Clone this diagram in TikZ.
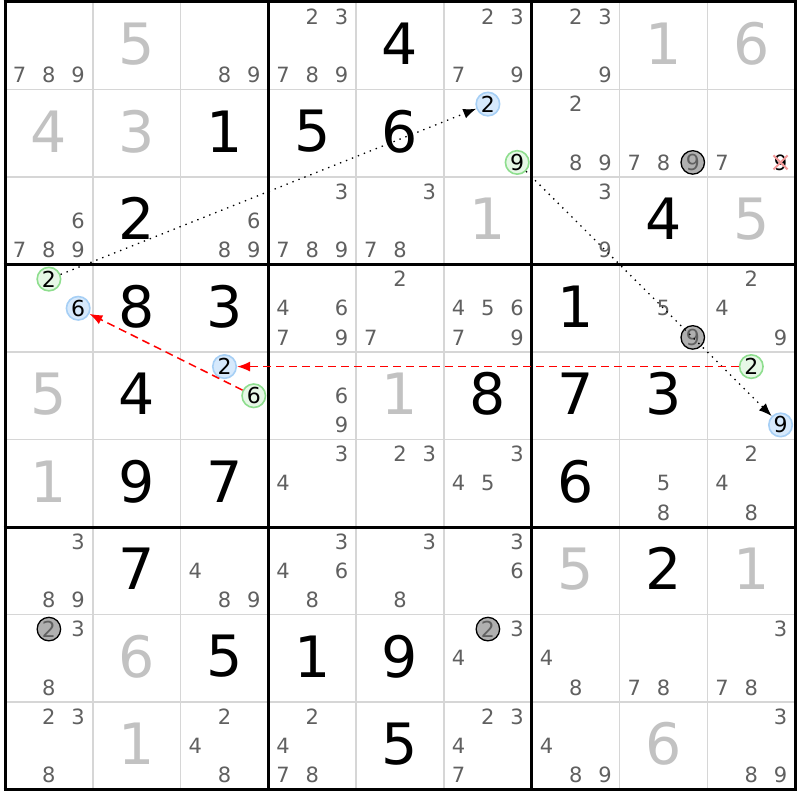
\documentclass[tikz,border=0pt]{standalone}
\usepackage{fontspec}
\setmainfont{DejaVu Sans}
\usetikzlibrary{arrows.meta}
\definecolor{candc}{HTML}{606060}
\definecolor{solc}{HTML}{C2C2C2}
\definecolor{thinc}{HTML}{D6D6D6}
\definecolor{bluef}{HTML}{D6E9FC}
\definecolor{blued}{HTML}{A6CFF5}
\definecolor{greenf}{HTML}{E6F8E6}
\definecolor{greend}{HTML}{8EDE8E}
\definecolor{grayf}{HTML}{B0B0B0}
\definecolor{xred}{HTML}{F29A9A}
\newcommand\givenD[3]{%
  \pgfmathsetmacro\xx{5+(#2-0.5)*87.8}%
  \pgfmathsetmacro\yy{2+(#1-0.5)*87.5-2}%
  \node[given] (v#1#2) at (\xx,\yy) {#3};}
\newcommand\solvedD[3]{%
  \pgfmathsetmacro\xx{5+(#2-0.5)*87.8}%
  \pgfmathsetmacro\yy{2+(#1-0.5)*87.5-2}%
  \node[solved] (v#1#2) at (\xx,\yy) {#3};}
\newcommand\cands[3]{%
  \foreach \dd in {#3} {%
    \pgfmathtruncatemacro\kk{mod(\dd-1,3)}%
    \pgfmathtruncatemacro\jj{int((\dd-1)/3)}%
    \pgfmathsetmacro\xx{5+(#2-1)*87.8+(\kk+0.5)*29.267}%
    \pgfmathsetmacro\yy{2+(#1-1)*87.5+(\jj+0.5)*29.167}%
    \node[cand] (c#1#2\dd) at (\xx,\yy) {\dd};
  }}
\newcommand\ccand[4]{%
  \pgfmathtruncatemacro\kk{mod(#3-1,3)}%
  \pgfmathtruncatemacro\jj{int((#3-1)/3)}%
  \pgfmathsetmacro\xx{5+(#2-1)*87.8+(\kk+0.5)*29.267}%
  \pgfmathsetmacro\yy{2+(#1-1)*87.5+(\jj+0.5)*29.167}%
  \node[#4] (c#1#2#3) at (\xx,\yy) {#3};}
\begin{document}
\begin{tikzpicture}[x=1pt,y=-1pt,
  given/.style={font=\fontsize{57}{57}\selectfont, text=black, inner sep=0pt},
  solved/.style={font=\fontsize{57}{57}\selectfont, text=solc, inner sep=0pt},
  cand/.style={font=\fontsize{21}{21}\selectfont, text=candc, inner sep=0pt},
  circbase/.style={circle, inner sep=0pt, minimum size=23.5pt, line width=1.6pt,
     font=\fontsize{22}{22}\selectfont},
  bluec/.style={circbase, draw=blued, fill=bluef, text=black},
  greenc/.style={circbase, draw=greend, fill=greenf, text=black},
  grayc/.style={circbase, draw=black, fill=grayf, text=candc, line width=1.3pt},
  xcand/.style={cand, text=black},
  thinline/.style={draw=thinc, line width=1.5pt},
  thickline/.style={draw=black, line width=3pt},
  chaindot/.style={draw=black, line width=1.3pt, dash pattern=on 1.4pt off 5pt,
     -{Latex[length=13pt,width=10pt]}},
  chainred/.style={draw=red, line width=1.5pt, dash pattern=on 8pt off 5pt,
     -{Latex[length=13pt,width=10pt]}},
  xmark/.style={draw=xred, line width=2pt}
]
\useasboundingbox (0,0) rectangle (800,800);
\fill[white] (0,0) rectangle (800,800);
% thin grid
\foreach \i in {1,2,4,5,7,8} {
  \draw[thinline] (5+\i*87.8,2) -- (5+\i*87.8,789.5);
  \draw[thinline] (5,2+\i*87.5) -- (795,2+\i*87.5);
}
% thick grid
\foreach \i in {0,3,6,9} {
  \draw[thickline] (5+\i*87.8,0.5) -- (5+\i*87.8,791);
  \draw[thickline] (3.5,2+\i*87.5) -- (796.5,2+\i*87.5);
}
% givens and solved
\solvedD{1}{2}{5}\givenD{1}{5}{4}\solvedD{1}{8}{1}\solvedD{1}{9}{6}
\solvedD{2}{1}{4}\solvedD{2}{2}{3}\givenD{2}{3}{1}\givenD{2}{4}{5}\givenD{2}{5}{6}
\givenD{3}{2}{2}\solvedD{3}{6}{1}\givenD{3}{8}{4}\solvedD{3}{9}{5}
\givenD{4}{2}{8}\givenD{4}{3}{3}\givenD{4}{7}{1}
\solvedD{5}{1}{5}\givenD{5}{2}{4}\solvedD{5}{5}{1}\givenD{5}{6}{8}\givenD{5}{7}{7}\givenD{5}{8}{3}
\solvedD{6}{1}{1}\givenD{6}{2}{9}\givenD{6}{3}{7}\givenD{6}{7}{6}
\givenD{7}{2}{7}\solvedD{7}{7}{5}\givenD{7}{8}{2}\solvedD{7}{9}{1}
\solvedD{8}{2}{6}\givenD{8}{3}{5}\givenD{8}{4}{1}\givenD{8}{5}{9}
\solvedD{9}{2}{1}\givenD{9}{5}{5}\solvedD{9}{8}{6}
% candidates
\cands{1}{1}{7,8,9}\cands{1}{3}{8,9}\cands{1}{4}{2,3,7,8,9}\cands{1}{6}{2,3,7,9}\cands{1}{7}{2,3,9}
\cands{2}{7}{2,8,9}\cands{2}{8}{7,8}\cands{2}{9}{7}
\cands{3}{1}{6,7,8,9}\cands{3}{3}{6,8,9}\cands{3}{4}{3,7,8,9}\cands{3}{5}{3,7,8}\cands{3}{7}{3,9}
\cands{4}{4}{4,6,7,9}\cands{4}{5}{2,7}\cands{4}{6}{4,5,6,7,9}\cands{4}{8}{5}\cands{4}{9}{2,4,9}
\cands{5}{4}{6,9}
\cands{6}{4}{3,4}\cands{6}{5}{2,3}\cands{6}{6}{3,4,5}\cands{6}{8}{5,8}\cands{6}{9}{2,4,8}
\cands{7}{1}{3,8,9}\cands{7}{3}{4,8,9}\cands{7}{4}{3,4,6,8}\cands{7}{5}{3,8}\cands{7}{6}{3,6}
\cands{8}{1}{3,8}\cands{8}{6}{3,4}\cands{8}{7}{4,8}\cands{8}{8}{7,8}\cands{8}{9}{3,7,8}
\cands{9}{1}{2,3,8}\cands{9}{3}{2,4,8}\cands{9}{4}{2,4,7,8}\cands{9}{6}{2,3,4,7}\cands{9}{7}{4,8,9}\cands{9}{9}{3,8,9}
% eliminated candidate
\ccand{2}{9}{9}{xcand}
\draw[xmark] ([shift={(-7,-7)}]c299.center) -- ([shift={(7,7)}]c299.center);
\draw[xmark] ([shift={(-7,7)}]c299.center) -- ([shift={(7,-7)}]c299.center);
% circled candidates
\ccand{2}{6}{2}{bluec}\ccand{2}{6}{9}{greenc}
\ccand{2}{8}{9}{grayc}
\ccand{4}{1}{2}{greenc}\ccand{4}{1}{6}{bluec}
\ccand{4}{8}{9}{grayc}
\ccand{5}{3}{2}{bluec}\ccand{5}{3}{6}{greenc}
\ccand{5}{9}{2}{greenc}\ccand{5}{9}{9}{bluec}
\ccand{8}{1}{2}{grayc}\ccand{8}{6}{2}{grayc}
% chains
\draw[chaindot] (c412) -- (c262);
\draw[chaindot] (c269) -- (c599);
\draw[chainred] (c592) -- (c532);
\draw[chainred] (c536) -- (c416);
\end{tikzpicture}
\end{document}
